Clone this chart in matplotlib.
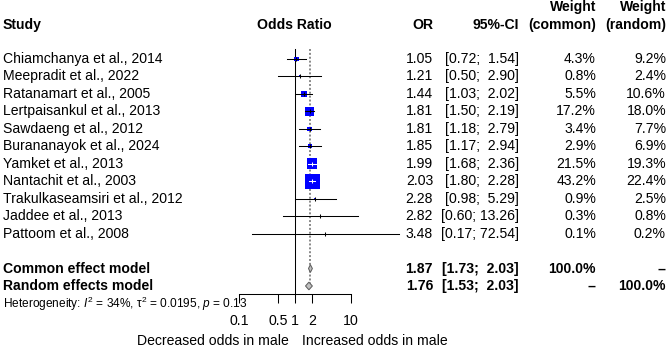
import numpy as np
import matplotlib
matplotlib.use("Agg")
import matplotlib.pyplot as plt
from matplotlib.transforms import blended_transform_factory

plt.rcParams['font.family'] = ['Liberation Sans', 'DejaVu Sans']
plt.rcParams['mathtext.fontset'] = 'custom'
plt.rcParams['mathtext.rm'] = 'Liberation Sans'
plt.rcParams['mathtext.it'] = 'Liberation Sans:italic'

# datos del forest plot
studies = ["Chiamchanya et al., 2014", "Meepradit et al., 2022", "Ratanamart et al., 2005",
           "Lertpaisankul et al., 2013", "Sawdaeng et al., 2012", "Burananayok et al., 2024",
           "Yamket et al., 2013", "Nantachit et al., 2003", "Trakulkaseamsiri et al., 2012",
           "Jaddee et al., 2013", "Pattoom et al., 2008"]
or_vals = [1.05, 1.21, 1.44, 1.81, 1.81, 1.85, 1.99, 2.03, 2.28, 2.82, 3.48]
ci_lo = [0.72, 0.50, 1.03, 1.50, 1.18, 1.17, 1.68, 1.80, 0.98, 0.60, 0.17]
ci_hi = [1.54, 2.90, 2.02, 2.19, 2.79, 2.94, 2.36, 2.28, 5.29, 13.26, 72.54]
w_common = [4.3, 0.8, 5.5, 17.2, 3.4, 2.9, 21.5, 43.2, 0.9, 0.3, 0.1]
w_random = [9.2, 2.4, 10.6, 18.0, 7.7, 6.9, 19.3, 22.4, 2.5, 0.8, 0.2]

model_names = ["Common effect model", "Random effects model"]
model_or = [1.87, 1.76]
model_lo = [1.73, 1.53]
model_hi = [2.03, 2.03]
model_wc = ["100.0%", "--"]
model_wr = ["--", "100.0%"]

het_text = r"Heterogeneity: $I^2$ = 34%, τ$^2$ = 0.0195, $p$ = 0.13"
xticks = [0.1, 0.5, 1, 2, 10]
xtick_labels = ["0.1", "0.5", "1", "2", "10"]

W, H = 669, 347
px_dec = 55.85   # pixeles por decada
x_one = 295.2    # pixel de OR = 1
row0, row_h = 59, 17.46

fig = plt.figure(figsize=(W / 100, H / 100), dpi=100)
ax_l, ax_r = 200, 420
ax = fig.add_axes([ax_l / W, 0, (ax_r - ax_l) / W, 1])
ax.set_xscale('log')
ax.set_xlim(10 ** ((ax_l - x_one) / px_dec), 10 ** ((ax_r - x_one) / px_dec))
ax.set_ylim((H - row0) / row_h, -row0 / row_h)
ax.patch.set_visible(False)
for s in ['top', 'right', 'left']:
    ax.spines[s].set_visible(False)
ax.spines['bottom'].set_position(('data', 13.46))
ax.spines['bottom'].set_bounds(0.1, 10)
ax.spines['bottom'].set_linewidth(0.75)
ax.set_yticks([])
ax.set_xticks(xticks)
ax.set_xticklabels(xtick_labels)
ax.xaxis.set_minor_locator(matplotlib.ticker.NullLocator())
ax.tick_params(axis='x', direction='out', length=6.2, width=0.75, labelsize=10.2, pad=8.5)

rows = np.arange(len(studies))

# linea de no efecto y efecto comun
ax.plot([1, 1], [-0.55, 13.46], color='black', lw=0.75, zorder=1)
ax.plot([model_or[0]] * 2, [-0.55, 13], color='#888888', lw=1.4, ls=(0, (1, 1)), zorder=1)

# cuadrados e intervalos
side_px = 15 * np.sqrt(np.array(w_common) / max(w_common))
ax.scatter(or_vals, rows, marker='s', s=(side_px * 0.72) ** 2, color='blue',
           edgecolors='none', zorder=3)
for i in rows:
    ci_px = px_dec * (np.log10(ci_hi[i]) - np.log10(ci_lo[i]))
    col = 'white' if ci_px < 0.9 * side_px[i] else 'black'
    ax.plot([ci_lo[i], ci_hi[i]], [i, i], color=col, lw=0.75, zorder=4, clip_on=False)
    ax.plot([or_vals[i]], [i], marker='|', ms=3.5, mew=0.75, color=col, zorder=4)

# diamantes
for k in range(2):
    r = 12 + k
    ax.fill([model_lo[k], model_or[k], model_hi[k], model_or[k]],
            [r, r - 0.22, r, r + 0.22], facecolor='#c0c0c0', edgecolor='#606060',
            lw=0.75, zorder=5)

# columnas de texto
tr = blended_transform_factory(fig.transFigure, ax.transData)
fs = 10.1
def col_text(xpx, y, s, ha='left', bold=False, size=fs):
    ax.text(xpx / W, y, s, transform=tr, ha=ha, va='center', fontsize=size,
            fontweight='bold' if bold else 'normal', color='black')

hy = -1.95
col_text(3, hy, "Study", bold=True)
col_text(294, hy, "Odds Ratio", ha='center', bold=True)
col_text(433, hy, "OR", ha='right', bold=True)
col_text(519, hy, "95%-CI", ha='right', bold=True)
col_text(596, -2.96, "Weight", ha='right', bold=True)
col_text(596, hy, "(common)", ha='right', bold=True)
col_text(666, -2.96, "Weight", ha='right', bold=True)
col_text(666, hy, "(random)", ha='right', bold=True)

for i in rows:
    col_text(3, i, studies[i])
    col_text(433, i, f"{or_vals[i]:.2f}", ha='right')
    col_text(519, i, f"[{ci_lo[i]:.2f}; {ci_hi[i]:5.2f}]", ha='right')
    col_text(596, i, f"{w_common[i]:.1f}%", ha='right')
    col_text(666, i, f"{w_random[i]:.1f}%", ha='right')

for k in range(2):
    r = 12 + k
    col_text(3, r, model_names[k], bold=True)
    col_text(433, r, f"{model_or[k]:.2f}", ha='right', bold=True)
    col_text(519, r, f"[{model_lo[k]:.2f}; {model_hi[k]:5.2f}]", ha='right', bold=True)
    col_text(596, r, model_wc[k], ha='right', bold=True)
    col_text(666, r, model_wr[k], ha='right', bold=True)

col_text(3, 14, het_text, size=8.6)
col_text(289, 16.15, "Decreased odds in male", ha='right')
col_text(302, 16.15, "Increased odds in male", ha='left')

fig.savefig("out.png", dpi=100)
